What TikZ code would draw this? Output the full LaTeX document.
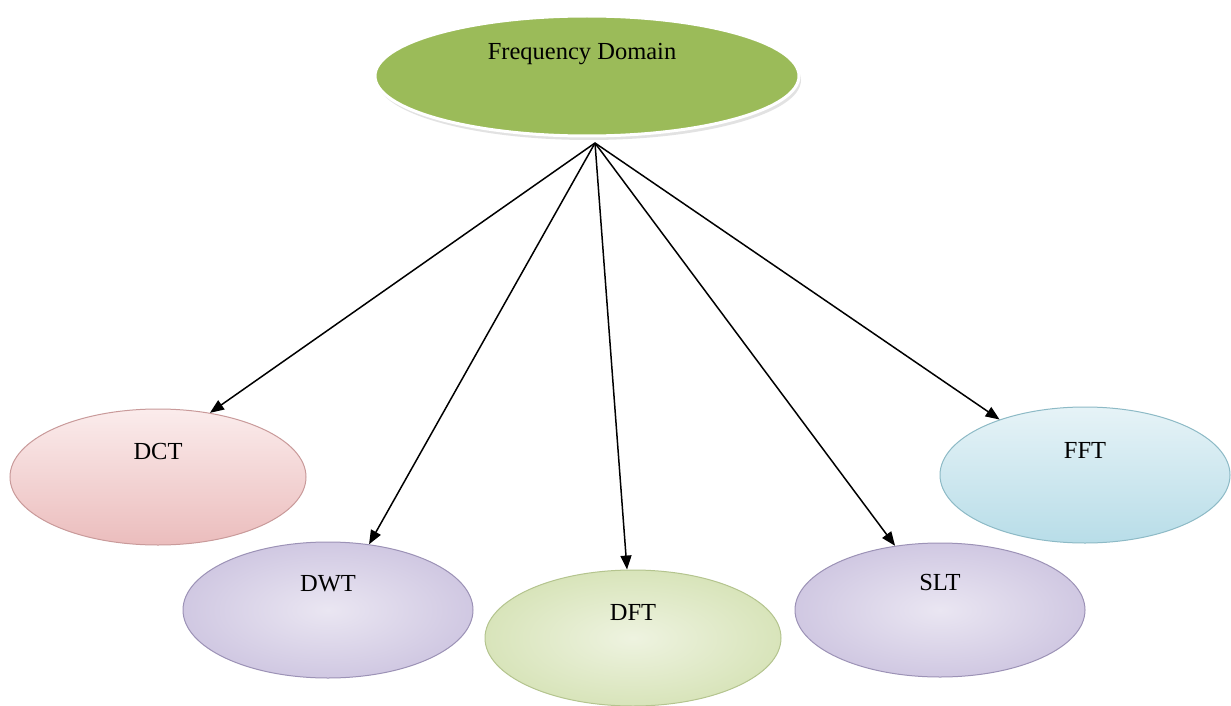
\documentclass[tikz,border=0pt]{standalone}
\usepackage{fontspec}
\setmainfont{Liberation Serif}
\usetikzlibrary{shapes.geometric,arrows.meta,shadows}
\definecolor{fdgreen}{HTML}{9BBB59}
\definecolor{dcttop}{HTML}{FBECEC}
\definecolor{dctbot}{HTML}{EBBDBD}
\definecolor{dctline}{HTML}{C99A9A}
\definecolor{lavin}{HTML}{EAE6F2}
\definecolor{lavout}{HTML}{D0C8E2}
\definecolor{lavline}{HTML}{9C92B6}
\definecolor{grin}{HTML}{EEF3E0}
\definecolor{grout}{HTML}{D8E4BA}
\definecolor{grline}{HTML}{B4C48E}
\definecolor{bltop}{HTML}{E6F3F7}
\definecolor{blbot}{HTML}{B8DDE8}
\definecolor{blline}{HTML}{8DBAC6}
\tikzset{
  x=1pt, y=-1pt,
  oval/.style={ellipse, inner sep=0pt, minimum width=#1},
  lbl/.style={anchor=base, inner sep=0pt, font=\fontsize{24.5}{29}\selectfont},
  conn/.style={draw=black, line width=1.5pt, -{Triangle[length=14pt,width=11pt]}},
}
\begin{document}
\begin{tikzpicture}
\path[use as bounding box, fill=white] (0,0) rectangle (1231,706);

% top node
\node[oval=424pt, minimum height=120pt, fill=fdgreen, draw=white, line width=3pt,
      drop shadow={shadow xshift=2pt, shadow yshift=-4pt, fill=gray!45}] (fd) at (587,76) {};
\node[lbl] (tfd) at ([xshift=-5pt,yshift=16pt]fd.center) {Frequency Domain};

% children
\node[oval=296pt, minimum height=136pt, top color=dcttop, bottom color=dctbot, draw=dctline, line width=1pt] (dct) at (158,477) {};
\node[oval=290pt, minimum height=136pt, inner color=lavin, outer color=lavout, draw=lavline, line width=1pt] (dwt) at (328,610) {};
\node[oval=296pt, minimum height=136pt, inner color=grin, outer color=grout, draw=grline, line width=1pt] (dft) at (633,638) {};
\node[oval=290pt, minimum height=134pt, inner color=lavin, outer color=lavout, draw=lavline, line width=1pt] (slt) at (940,610) {};
\node[oval=290pt, minimum height=136pt, top color=bltop, bottom color=blbot, draw=blline, line width=1pt] (fft) at (1085,475) {};

\node[lbl] (tdct) at ([yshift=18pt]dct.center) {DCT};
\node[lbl] (tdwt) at ([yshift=19pt]dwt.center) {DWT};
\node[lbl] (tdft) at ([yshift=18pt]dft.center) {DFT};
\node[lbl] (tslt) at ([yshift=20pt]slt.center) {SLT};
\node[lbl] (tfft) at ([yshift=17pt]fft.center) {FFT};

% connectors
\coordinate (src) at (595,143);
\draw[conn] (src) -- (dct.51);
\draw[conn] (src) -- (dwt.58);
\draw[conn] (src) -- (dft.95);
\draw[conn] (src) -- (slt.125);
\draw[conn] (src) -- (fft.147);
\end{tikzpicture}
\end{document}
